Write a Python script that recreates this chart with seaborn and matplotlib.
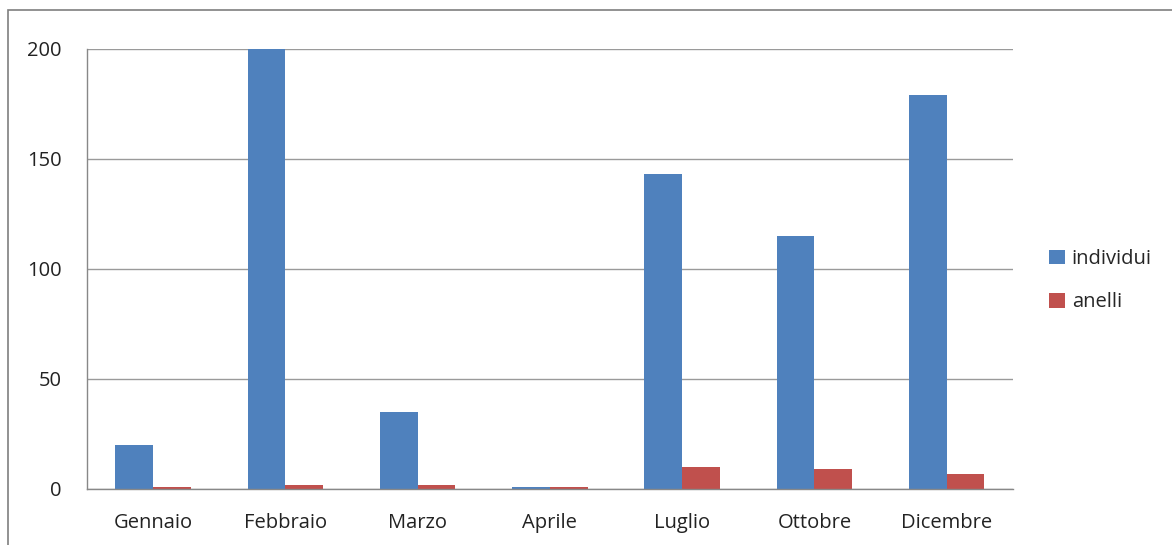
import pandas as pd
import seaborn as sns
import matplotlib.pyplot as plt
from matplotlib.patches import Rectangle
from matplotlib.ticker import FixedLocator

# Data
mesi = ["Gennaio", "Febbraio", "Marzo", "Aprile", "Luglio", "Ottobre", "Dicembre"]
individui = [20, 200, 35, 1, 143, 115, 179]
anelli = [1, 2, 2, 1, 10, 9, 7]
serie = ["individui", "anelli"]
colori = ["#4F81BD", "#C0504D"]

df = pd.DataFrame({
    "mese": mesi * 2,
    "valore": individui + anelli,
    "serie": [serie[0]] * len(mesi) + [serie[1]] * len(mesi),
})

sns.set_style("white")
plt.rcParams["font.family"] = ["Open Sans", "DejaVu Sans"]

fig = plt.figure(figsize=(11.72, 5.45), dpi=100)
ax = fig.add_axes([0.0742, 0.1028, 0.79, 0.8073])

sns.barplot(data=df, x="mese", y="valore", hue="serie", order=mesi,
            hue_order=serie, palette=colori, width=0.57, saturation=1,
            linewidth=0, ax=ax, legend=True)

ax.set_ylim(0, 200)
ax.set_xlim(-0.5, len(mesi) - 0.5)
ax.set_yticks([0, 50, 100, 150, 200])
ax.yaxis.grid(True, color="#9a9a9a", linewidth=1)
ax.set_axisbelow(True)
ax.set_xlabel("")
ax.set_ylabel("")

# tick marks at category boundaries like Excel
ax.xaxis.set_minor_locator(FixedLocator([i - 0.5 for i in range(len(mesi) + 1)]))
ax.tick_params(axis="x", which="major", length=0, pad=17, labelsize=14.5, colors="#222222")
ax.tick_params(axis="x", which="minor", length=6, width=1, color="#888888")
ax.tick_params(axis="y", which="major", length=6, width=1, color="#888888",
               labelsize=14.5, pad=12, labelcolor="#222222")

for s in ["top", "right"]:
    ax.spines[s].set_visible(False)
for s in ["left", "bottom"]:
    ax.spines[s].set_color("#888888")
    ax.spines[s].set_linewidth(1)

handles, labels = ax.get_legend_handles_labels()
ax.legend_.remove()
fig.legend(handles, labels, loc="center left", bbox_to_anchor=(0.88, 0.485),
           frameon=False, fontsize=14.5, handlelength=0.75, handleheight=0.75,
           handletextpad=0.35, labelspacing=1.15)

# outer frame of the chart area
fig.patches.append(Rectangle((8 / 1172, -0.05), 1.2, 1 - 10 / 545 + 0.05,
                             transform=fig.transFigure, fill=False,
                             edgecolor="#7f7f7f", linewidth=1.2))

fig.savefig("out.png", dpi=100)
